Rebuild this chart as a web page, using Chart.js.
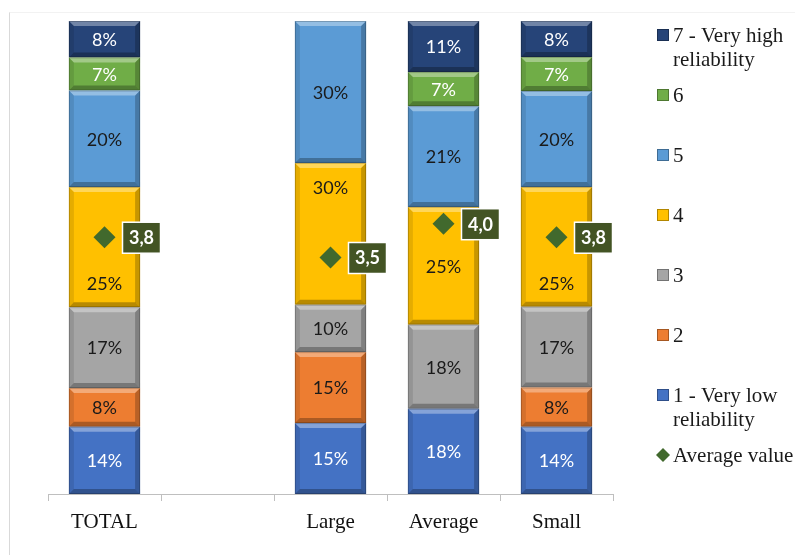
<!DOCTYPE html>
<html>
<head>
<meta charset="utf-8">
<script src="https://cdn.jsdelivr.net/npm/chart.js@4"></script>
<style>
  html, body { margin: 0; padding: 0; background: #fff; }
  #wrap { position: relative; width: 795px; height: 555px; }
  #frame { position: absolute; left: 9px; top: 12px; right: 0; bottom: 0; border-left: 1px solid #d9d9d9; border-top: 1px solid #f2f2f2; }
  #myChart { position: absolute; left: 0; top: 0; }
</style>
</head>
<body>
<div id="wrap">
  <div id="frame"></div>
  <canvas id="myChart" width="795" height="555"></canvas>
</div>
<script>
  // categories (the second one is an empty spacer column)
  const categories = ['TOTAL', '', 'Large', 'Average', 'Small']

  // share of answers per reliability level, %
  const level1 = [14.2, null, 15.0, 18.0, 14.2]
  const level2 = [8.2, null, 15.0, 0, 8.3]
  const level3 = [17.1, null, 10.0, 17.8, 17.1]
  const level4 = [25.4, null, 30.0, 24.9, 25.3]
  const level5 = [20.4, null, 30.0, 21.3, 20.3]
  const level6 = [7.0, null, 0, 7.2, 7.2]
  const level7 = [7.7, null, 0, 10.8, 7.6]

  // average score on the 1..7 scale
  const averageValue = [3.8, null, 3.5, 4.0, 3.8]

  const levelNames = [
    ['1 - Very low', 'reliability'],
    ['2'],
    ['3'],
    ['4'],
    ['5'],
    ['6'],
    ['7 - Very high', 'reliability']
  ]
  const averageName = 'Average value'

  const levelColors = ['#4472c4', '#ed7d31', '#a5a5a5', '#ffc000', '#5b9bd5', '#70ad47', '#264478']
  const labelColors = ['#ffffff', '#1a1a1a', '#1a1a1a', '#1a1a1a', '#1a1a1a', '#ffffff', '#ffffff']
  const diamondColor = '#41692d'
  const boxColor = '#435424'

  const levels = [level1, level2, level3, level4, level5, level6, level7]

  const barSets = levels.map((vals, i) => ({
    type: 'bar',
    label: levelNames[i].join(' '),
    data: vals,
    backgroundColor: levelColors[i],
    borderWidth: 0,
    barPercentage: 0.63,
    categoryPercentage: 1,
    yAxisID: 'y',
    order: 1
  }))

  const avgSet = {
    type: 'line',
    label: averageName,
    data: averageValue,
    yAxisID: 'y2',
    showLine: false,
    pointStyle: 'rectRot',
    pointRadius: 11,
    pointHoverRadius: 11,
    pointBackgroundColor: diamondColor,
    pointBorderColor: diamondColor,
    pointBorderWidth: 0,
    order: 0
  }

  // excel-like bevel on every bar segment
  const bevel = {
    id: 'bevel',
    afterDatasetDraw(chart, args) {
      const meta = args.meta
      if (meta.type !== 'bar') return
      const c = chart.ctx
      meta.data.forEach(bar => {
        const p = bar.getProps(['x', 'y', 'base', 'width'], true)
        const h = Math.abs(p.base - p.y)
        if (!h || h < 2 || isNaN(h)) return
        const l = p.x - p.width / 2
        const r = p.x + p.width / 2
        const t = Math.min(p.y, p.base)
        const b = t + h
        const d = Math.min(5, h / 3)
        const poly = (pts, fill) => {
          c.beginPath()
          c.moveTo(pts[0][0], pts[0][1])
          pts.slice(1).forEach(q => c.lineTo(q[0], q[1]))
          c.closePath()
          c.fillStyle = fill
          c.fill()
        }
        c.save()
        poly([[l, t], [r, t], [r - d, t + d], [l + d, t + d]], 'rgba(255,255,255,0.35)')
        poly([[l, b], [r, b], [r - d, b - d], [l + d, b - d]], 'rgba(0,0,0,0.28)')
        poly([[l, t], [l + d, t + d], [l + d, b - d], [l, b]], 'rgba(0,0,0,0.10)')
        poly([[r, t], [r - d, t + d], [r - d, b - d], [r, b]], 'rgba(0,0,0,0.22)')
        c.strokeStyle = 'rgba(0,0,0,0.2)'
        c.lineWidth = 1
        c.strokeRect(l + 0.5, t + 0.5, p.width - 1, h - 1)
        c.restore()
      })
    }
  }

  // value labels on bars and boxed labels next to the diamonds
  const valueLabels = {
    id: 'valueLabels',
    afterDraw(chart) {
      const c = chart.ctx
      const avgMeta = chart.getDatasetMeta(levels.length)
      c.save()
      c.textAlign = 'center'
      c.textBaseline = 'middle'
      c.font = '18px Lato'
      levels.forEach((vals, i) => {
        const meta = chart.getDatasetMeta(i)
        meta.data.forEach((bar, j) => {
          const v = vals[j]
          if (!v) return
          const p = bar.getProps(['x', 'y', 'base'], true)
          let ly = (p.y + p.base) / 2
          // move the label off the diamond when they would collide
          const pt = avgMeta.data[j]
          if (pt && averageValue[j] != null && Math.abs(pt.y - ly) < 30) {
            ly = pt.y <= ly ? p.base - 24 : p.y + 24
          }
          c.fillStyle = labelColors[i]
          c.fillText(Math.round(v) + '%', p.x, ly + 1)
        })
      })
      c.font = 'bold 18px Lato'
      avgMeta.data.forEach((pt, j) => {
        const v = averageValue[j]
        if (v == null) return
        const bx = pt.x + 18
        const by = pt.y - 15
        c.fillStyle = boxColor
        c.fillRect(bx, by, 38, 31)
        c.strokeStyle = '#ffffff'
        c.lineWidth = 1.5
        c.strokeRect(bx, by, 38, 31)
        c.fillStyle = '#ffffff'
        c.fillText(v.toFixed(1).replace('.', ','), bx + 19, pt.y + 1)
      })
      c.restore()
    }
  }

  // legend on the right, top level first
  const sideLegend = {
    id: 'sideLegend',
    afterDraw(chart) {
      const c = chart.ctx
      const area = chart.chartArea
      const x0 = area.right + 44
      const y0 = area.top + 14
      const step = 60
      c.save()
      c.font = '21px "Liberation Serif"'
      c.textAlign = 'left'
      c.textBaseline = 'middle'
      const items = levelNames.map((n, i) => ({ lines: n, color: levelColors[i], diamond: false })).reverse()
      items.push({ lines: [averageName], color: diamondColor, diamond: true })
      items.forEach((it, k) => {
        const y = y0 + k * step
        c.fillStyle = it.color
        if (it.diamond) {
          c.beginPath()
          c.moveTo(x0 + 6, y - 7)
          c.lineTo(x0 + 13, y)
          c.lineTo(x0 + 6, y + 7)
          c.lineTo(x0 - 1, y)
          c.closePath()
          c.fill()
        } else {
          c.fillRect(x0, y - 6, 12, 12)
          c.strokeStyle = 'rgba(0,0,0,0.3)'
          c.lineWidth = 1
          c.strokeRect(x0 + 0.5, y - 5.5, 11, 11)
        }
        c.fillStyle = '#1a1a1a'
        it.lines.forEach((ln, m) => c.fillText(ln, x0 + 16, y + 1 + m * 24))
      })
      c.restore()
    }
  }

  const ctx = document.getElementById('myChart')
  const myChart = new Chart(ctx, {
    data: {
      labels: categories,
      datasets: [...barSets, avgSet]
    },
    options: {
      responsive: false,
      animation: false,
      layout: {
        padding: { left: 48, right: 182, top: 21, bottom: 0 }
      },
      scales: {
        x: {
          stacked: true,
          grid: {
            offset: true,
            drawOnChartArea: false,
            tickLength: 7,
            color: '#bfbfbf'
          },
          border: { color: '#bfbfbf' },
          ticks: {
            color: '#111111',
            padding: 9,
            font: { family: 'Liberation Serif', size: 21 }
          },
          afterFit(scale) {
            scale.height = 61
          }
        },
        y: {
          stacked: true,
          display: false,
          min: 0,
          max: 100
        },
        y2: {
          display: false,
          min: 0,
          max: 7
        }
      },
      plugins: {
        legend: { display: false },
        tooltip: { enabled: false }
      }
    },
    plugins: [bevel, valueLabels, sideLegend]
  })
</script>
</body>
</html>
